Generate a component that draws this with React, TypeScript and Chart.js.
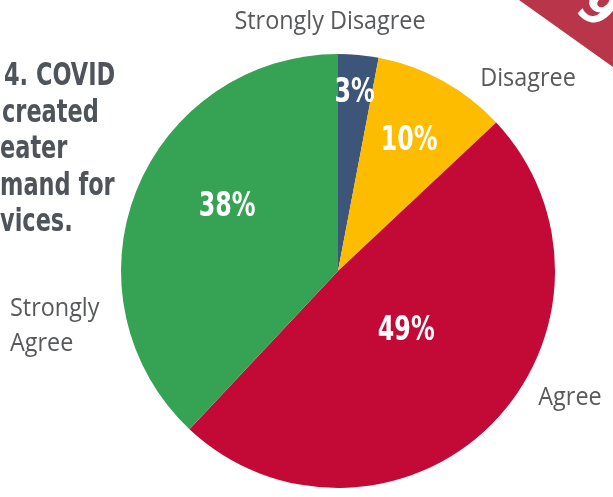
import React, { useEffect, useRef } from "react";
import { Chart, registerables } from "chart.js";

Chart.register(...registerables);

const categories = ["Strongly Disagree", "Disagree", "Agree", "Strongly Agree"];
const values = [3, 10, 49, 38];
const percentLabels = ["3%", "10%", "49%", "38%"];
const sliceColors = ["#3d5579", "#fdbc00", "#c30a37", "#35a353"];
const titleLines = ["4. COVID", "created", "eater", "mand for", "vices."];

// label placement styles (fractions of radius / angle shifts in degrees)
const pctRadius = [0.82, 0.68, 0.42, 0.59];
const pctAngleShift = [0, 0, -3.5, 8.4];

const outerLabelPlacement = [
  { dx: -8, dy: -249, align: "center", lines: ["Strongly Disagree"] },
  { dx: 190, dy: -192, align: "center", lines: ["Disagree"] },
  { dx: 232, dy: 127, align: "center", lines: ["Agree"] },
  { dx: -328, dy: 55, align: "left", lines: ["Strongly", "Agree"] },
];

const condensed = "'DejaVu Sans Condensed', 'DejaVu Sans', sans-serif";
const regular = "'Open Sans', 'Noto Sans', 'DejaVu Sans', sans-serif";

function drawText(ctx: any, text: string, x: number, y: number, font: string, sx: number, align: string) {
  ctx.save();
  ctx.translate(x, y);
  ctx.scale(sx, 1);
  ctx.font = font;
  ctx.textAlign = align;
  ctx.textBaseline = "middle";
  ctx.fillText(text, 0, 0);
  ctx.restore();
}

const labelPlugin = {
  id: "labels",
  beforeDraw(chart: any) {
    const ctx = chart.ctx;
    ctx.save();
    // corner ribbon
    ctx.fillStyle = "#b8354a";
    ctx.beginPath();
    ctx.moveTo(519, 0);
    ctx.lineTo(613, 0);
    ctx.lineTo(613, 67);
    ctx.closePath();
    ctx.fill();
    ctx.translate(596, 11);
    ctx.rotate((35 * Math.PI) / 180);
    ctx.fillStyle = "#ffffff";
    ctx.font = `italic bold 50px ${condensed}`;
    ctx.textAlign = "center";
    ctx.textBaseline = "middle";
    ctx.fillText("9", 0, 0);
    ctx.restore();

    // title
    ctx.save();
    ctx.fillStyle = "#4f545a";
    const tx = [4, 2, 0, 0, 0];
    titleLines.forEach((t, i) =>
      drawText(ctx, t, tx[i], 77 + i * 36.5, `bold 32px ${condensed}`, 0.78, "left")
    );
    ctx.restore();
  },
  afterDraw(chart: any) {
    const ctx = chart.ctx;
    const meta = chart.getDatasetMeta(0);
    ctx.save();
    meta.data.forEach((arc: any, i: number) => {
      const { x, y, startAngle, endAngle, outerRadius } = arc.getProps(
        ["x", "y", "startAngle", "endAngle", "outerRadius"],
        true
      );
      const mid = (startAngle + endAngle) / 2 + (pctAngleShift[i] * Math.PI) / 180;
      const r = outerRadius * pctRadius[i];
      ctx.fillStyle = "#ffffff";
      drawText(ctx, percentLabels[i], x + r * Math.cos(mid), y + r * Math.sin(mid), `bold 33px ${condensed}`, 0.8, "center");

      const p = outerLabelPlacement[i];
      ctx.fillStyle = "#58595b";
      p.lines.forEach((ln, k) => {
        const ly = y + p.dy + (k - (p.lines.length - 1) / 2) * 35;
        drawText(ctx, ln, x + p.dx, ly, `26px ${regular}`, 0.9, p.align);
      });
    });
    ctx.restore();
  },
};

export default function App() {
  const ref = useRef<HTMLCanvasElement>(null);
  useEffect(() => {
    if (!ref.current) return;
    const chart = new Chart(ref.current, {
      type: "pie",
      data: {
        labels: categories,
        datasets: [
          {
            data: values,
            backgroundColor: sliceColors,
            borderWidth: 0,
          },
        ],
      },
      options: {
        responsive: false,
        animation: false,
        layout: { padding: { left: 121, right: 58, top: 54, bottom: 9 } },
        plugins: { legend: { display: false }, tooltip: { enabled: false } },
      },
      plugins: [labelPlugin],
    });
    return () => chart.destroy();
  }, []);
  return (
    <div style={{ position: "fixed", left: 0, top: 0, width: 613, height: 497, background: "#fff" }}>
      <canvas ref={ref} width={613} height={497} style={{ display: "block" }} />
    </div>
  );
}
